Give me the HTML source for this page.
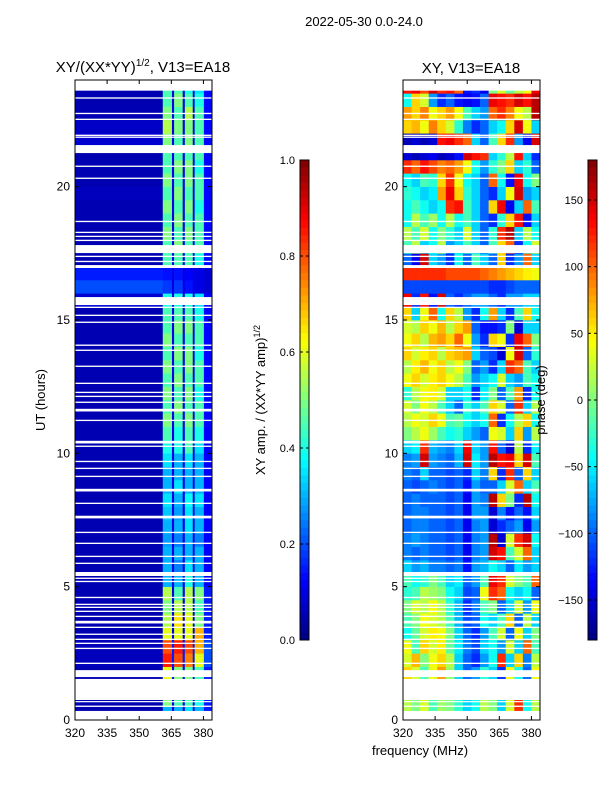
<!DOCTYPE html>
<html><head><meta charset="utf-8"><style>
body{margin:0;background:#fff;width:600px;height:800px;overflow:hidden;font-family:"Liberation Sans",sans-serif}
svg text{font-family:"Liberation Sans",sans-serif;fill:#000}
</style></head><body>
<svg id="fig" width="600" height="800" xmlns="http://www.w3.org/2000/svg"></svg>
<script>
const xTicks=[320,335,350,365,380];
const yTicks=[0,5,10,15,20];
const ampTicks=[0.0,0.2,0.4,0.6,0.8,1.0];
const phaseTicks=[-150,-100,-50,0,50,100,150];
const ampEdges=[320,361,365.3,366.3,370.3,371.3,375,375.9,380.2,384];
const phaseEdges=[320,324,328,332,336,340,344,348,352,356,360,364,368,372,376,380,384];
const rowHours=0.5;
const ampRows=[
[0.05,0.3,0.1,0.3,0.1,0.35,0.1,0.3,0.15],
[0.05,0.5,0.1,0.45,0.1,0.45,0.1,0.4,0.15],
[0.05,0.5,0.1,0.45,0.1,0.45,0.1,0.4,0.15],
[0.05,0.6,0.1,0.5,0.1,0.5,0.1,0.45,0.15],
[0.06,0.85,0.15,0.8,0.15,0.75,0.15,0.6,0.2],
[0.06,0.8,0.15,0.85,0.15,0.8,0.15,0.7,0.2],
[0.05,0.6,0.1,0.6,0.1,0.6,0.1,0.7,0.15],
[0.05,0.55,0.1,0.65,0.1,0.6,0.1,0.5,0.15],
[0.05,0.5,0.1,0.55,0.1,0.55,0.1,0.45,0.15],
[0.05,0.55,0.1,0.45,0.1,0.55,0.1,0.5,0.15],
[0.05,0.3,0.1,0.3,0.1,0.4,0.1,0.3,0.12],
[0.05,0.3,0.1,0.25,0.1,0.35,0.1,0.3,0.12],
[0.05,0.3,0.1,0.3,0.1,0.3,0.1,0.3,0.12],
[0.05,0.28,0.1,0.25,0.1,0.3,0.1,0.25,0.12],
[0.05,0.3,0.1,0.3,0.1,0.35,0.1,0.3,0.12],
[0.05,0.32,0.1,0.28,0.1,0.35,0.1,0.3,0.12],
[0.05,0.35,0.1,0.3,0.1,0.38,0.1,0.35,0.12],
[0.05,0.3,0.1,0.35,0.1,0.3,0.1,0.3,0.12],
[0.05,0.3,0.1,0.3,0.1,0.3,0.1,0.3,0.12],
[0.05,0.35,0.1,0.3,0.1,0.35,0.1,0.3,0.12],
[0.05,0.4,0.1,0.4,0.1,0.45,0.1,0.35,0.12],
[0.05,0.45,0.1,0.4,0.1,0.45,0.1,0.4,0.12],
[0.05,0.5,0.1,0.45,0.1,0.5,0.1,0.45,0.13],
[0.05,0.45,0.1,0.5,0.1,0.45,0.1,0.45,0.13],
[0.05,0.5,0.1,0.45,0.1,0.5,0.1,0.4,0.13],
[0.05,0.45,0.1,0.5,0.1,0.45,0.1,0.45,0.13],
[0.05,0.5,0.1,0.45,0.1,0.5,0.1,0.45,0.13],
[0.05,0.45,0.1,0.5,0.1,0.5,0.1,0.4,0.13],
[0.05,0.5,0.1,0.45,0.1,0.45,0.1,0.45,0.13],
[0.05,0.45,0.1,0.5,0.1,0.5,0.1,0.45,0.13],
[0.05,0.45,0.1,0.45,0.1,0.45,0.1,0.4,0.13],
[0.08,0.4,0.1,0.4,0.1,0.4,0.1,0.35,0.12],
[0.2,0.18,0.1,0.18,0.1,0.14,0.1,0.1,0.08],
[0.15,0.14,0.1,0.14,0.1,0.12,0.1,0.1,0.08],
[0.05,0.45,0.1,0.45,0.1,0.45,0.1,0.4,0.13],
[0.05,0.45,0.1,0.5,0.1,0.45,0.1,0.45,0.13],
[0.05,0.5,0.1,0.45,0.1,0.5,0.1,0.45,0.13],
[0.05,0.45,0.1,0.5,0.1,0.45,0.1,0.45,0.13],
[0.05,0.5,0.1,0.45,0.1,0.5,0.1,0.4,0.13],
[0.06,0.45,0.1,0.5,0.1,0.45,0.1,0.45,0.13],
[0.05,0.5,0.1,0.45,0.1,0.5,0.1,0.45,0.13],
[0.05,0.45,0.1,0.5,0.1,0.5,0.1,0.4,0.13],
[0.05,0.45,0.1,0.45,0.1,0.45,0.1,0.45,0.13],
[0.08,0.5,0.1,0.45,0.1,0.5,0.1,0.45,0.13],
[0.07,0.55,0.1,0.5,0.1,0.5,0.1,0.45,0.13],
[0.05,0.5,0.1,0.45,0.1,0.55,0.1,0.45,0.13],
[0.05,0.45,0.1,0.5,0.1,0.45,0.1,0.4,0.13],
[0.05,0.45,0.1,0.45,0.1,0.4,0.1,0.35,0.13]];
const phaseRows=[
[20,0,30,-20,10,0,-30,-60,-40,20,0,-60,30,120,-40,20],
[20,0,30,-20,10,0,-30,-60,-40,20,0,-60,30,120,-40,20],
[60,30,-20,40,80,10,-60,-100,-80,-30,-60,-120,40,-40,-100,40],
[60,30,-20,40,80,10,-60,-100,-80,-30,-60,-120,40,-40,-100,40],
[30,70,0,40,60,20,-60,-100,-120,-80,-40,120,-60,60,-90,20],
[40,-20,60,30,50,-10,-50,-90,-110,-60,-40,-80,30,-60,100,-20],
[-40,-10,30,50,40,0,-60,-100,-120,-80,-20,30,-100,40,-60,0],
[-20,0,40,30,20,-20,-70,-110,-100,-40,-60,-20,60,-100,20,-60],
[0,30,20,40,20,-30,-70,-120,-90,-20,0,-100,-60,30,-80,40],
[-30,-20,20,10,0,-40,-60,-110,-100,40,120,100,-40,-60,-40,-100],
[-20,-40,-30,0,-20,-60,-50,-100,-80,-20,140,120,30,0,-20,100],
[-60,-80,-70,-90,-90,-100,-90,-130,-80,-70,-40,-60,-100,-50,-80,-60],
[-90,-100,-90,-100,-100,-110,-100,-140,-90,-80,150,130,-20,30,100,-60],
[-90,-80,-90,-100,-100,-110,-100,-140,-90,-80,160,-150,30,120,150,-40],
[-100,-90,-90,-100,-100,-110,-100,-140,-90,-80,-150,-120,-100,-80,-140,-80],
[-100,-90,-90,-100,-100,-110,-100,-140,-80,-80,-150,-90,-130,-100,-130,-60],
[-100,-90,-100,-100,-100,-110,-100,-140,-80,-90,160,60,0,-120,160,-40],
[-100,-110,-100,-90,-100,-110,-100,-130,-80,-100,-100,-60,30,100,-60,-20],
[-90,-100,-60,-100,-100,-110,-100,-120,-60,-90,60,-120,120,-100,60,-60],
[-90,-80,150,-80,-90,-100,-70,150,-50,-80,160,130,140,60,150,-20],
[-60,-50,120,-70,-80,-90,-60,140,-60,-80,130,-100,-150,20,-120,-50],
[0,20,40,10,-20,-40,-30,-60,-80,-100,40,30,-60,60,-80,20],
[20,40,30,60,40,-20,-10,-40,-60,-40,100,-120,-40,20,60,-40],
[30,0,40,20,-20,-60,-100,-30,-60,-20,60,30,-100,120,-60,20],
[-30,20,40,50,30,-60,-60,-40,-120,-50,0,-100,-20,80,-120,-40],
[40,60,30,50,60,40,20,-20,-80,-60,-40,30,-60,-80,-20,-40],
[20,50,70,40,60,20,40,0,-100,-80,-120,-60,120,100,-20,-60],
[60,30,50,60,20,60,70,80,-60,-100,-110,-150,40,150,-100,-30],
[40,60,20,70,80,60,100,40,-80,-120,60,40,-120,140,100,0],
[30,20,60,40,70,20,60,80,-100,-130,-130,-120,0,-150,-60,-60],
[60,-60,40,100,-40,60,20,-80,-120,-40,80,-60,-120,-20,60,-40],
[140,-120,130,-130,150,-100,-120,-100,-80,-80,-100,-120,-80,-80,-60,-60],
[-110,-110,-110,-110,-110,-110,-110,-110,-110,-110,-120,-120,-110,-100,-100,-100],
[120,120,120,120,120,110,110,110,110,100,90,80,70,60,50,40],
[-100,-140,150,-60,-80,-120,-40,-100,-20,-60,-100,60,-120,-80,100,-60],
[-20,20,-60,-40,20,-80,-60,-20,-60,-100,-20,60,100,-120,-40,30],
[20,-20,30,-40,0,-30,-60,30,-60,-100,-30,120,160,-60,20,-40],
[-40,20,-20,10,-40,20,-40,-20,-60,-100,-120,-30,60,130,-130,-60],
[-40,-20,-40,-60,-40,120,130,-20,-60,-100,60,140,-140,-60,100,-20],
[-30,-40,-60,-50,80,140,60,-30,-60,-100,-120,-60,40,150,-80,-60],
[-40,-60,-20,-30,60,120,40,-40,-60,-100,100,-40,-130,140,-40,0],
[120,100,130,110,90,100,80,40,-40,-80,-30,0,60,-60,-30,-100],
[-150,-160,-150,-140,-160,-150,-130,150,130,120,-60,-30,20,130,-60,-120],
[-160,-150,-160,-150,130,140,120,100,-60,-100,-20,60,120,-80,-140,150],
[60,70,40,90,60,30,-30,-90,-120,-100,-60,-40,60,150,40,-60],
[80,60,90,40,60,80,40,-20,-60,-80,100,120,90,40,20,160],
[-40,60,30,-80,-120,-100,-130,-140,-130,-100,140,130,120,150,130,160],
[130,140,110,150,120,130,100,-130,-120,-140,0,30,-10,20,40,140]];
const flagStart=[0,0.49,0.67,0.75,1.61,2.1,2.66,2.85,3.0,3.19,3.45,3.62,3.86,4.05,4.2,4.31,4.57,5.17,5.29,5.4,5.85,6.11,6.6,7.01,7.56,8.1,8.57,9.11,9.41,9.67,10.24,10.37,11.21,11.57,11.89,12.11,12.26,12.6,13.24,13.84,14.03,14.89,15.15,15.45,15.56,16.95,17.17,17.36,17.51,17.96,18.11,18.26,18.67,20.29,20.74,21.26,21.83,21.9,22.5,22.72,23.3,23.6];
const flagEnd=[0.34,0.54,0.71,1.54,1.87,2.15,2.71,2.9,3.05,3.24,3.5,3.72,3.91,4.1,4.25,4.36,4.62,5.22,5.34,5.55,5.9,6.16,6.65,7.06,7.66,8.15,8.67,9.16,9.46,9.72,10.29,10.47,11.26,11.67,11.94,12.16,12.31,12.65,13.29,13.89,14.08,14.94,15.2,15.5,15.86,17.06,17.22,17.41,17.81,18.01,18.16,18.31,18.72,20.34,20.79,21.56,21.88,21.95,22.55,22.77,23.35,24.0];

const NS="http://www.w3.org/2000/svg";
const svg=document.getElementById('fig');
function mk(tag,attrs,parent){const e=document.createElementNS(NS,tag);for(const k in attrs)e.setAttribute(k,attrs[k]);(parent||svg).appendChild(e);return e;}
function cl(v){return Math.max(0,Math.min(1,v));}
function jet(t){t=cl(t);const r=cl(1.5-Math.abs(4*t-3)),g=cl(1.5-Math.abs(4*t-2)),b=cl(1.5-Math.abs(4*t-1));return `rgb(${Math.round(r*255)},${Math.round(g*255)},${Math.round(b*255)})`;}

const axT=80,axB=720,axW=137;
function yScale(h){return axB-(h/24)*(axB-axT);}
function makeX(x0){return f=>x0+(f-320)/64*axW;}

function panel(x0,rows,edges,norm,name){
  const xs=makeX(x0);
  const g=mk('g',{});
  
  
  rows.forEach((row,r)=>{
    const y1=yScale((r+1)*rowHours),y2=yScale(r*rowHours);
    row.forEach((v,c)=>{
      const xa=xs(edges[c]),xb=xs(edges[c+1]);
      const cell=mk('rect',{x:xa,y:y1,width:xb-xa+0.3,height:y2-y1+0.3,fill:jet(norm(v))},g);
      
      
    });
  });
  flagStart.forEach((s,i)=>{
    const ya=yScale(flagEnd[i]),yb=yScale(s);
    const fr=mk('rect',{x:x0,y:ya,width:axW,height:Math.max(1.2,yb-ya),fill:'#fff'},g);
    
    
  });
  const frame=mk('rect',{x:x0,y:axT,width:axW,height:axB-axT,fill:'none',stroke:'#000','stroke-width':1},g);
  
  
  xTicks.forEach(t=>{
    const x=xs(t);
    mk('line',{x1:x,y1:axB,x2:x,y2:axB-4,stroke:'#000'},g);
    mk('line',{x1:x,y1:axT,x2:x,y2:axT+4,stroke:'#000'},g);
    const tx=mk('text',{x:x,y:axB+17,'font-size':12,'text-anchor':'middle'},g);
    tx.textContent=t;
    
    
  });
  yTicks.forEach(t=>{
    const y=yScale(t);
    mk('line',{x1:x0,y1:y,x2:x0+4,y2:y,stroke:'#000'},g);
    mk('line',{x1:x0+axW,y1:y,x2:x0+axW-4,y2:y,stroke:'#000'},g);
    const tx=mk('text',{x:x0-5,y:y+4,'font-size':12,'text-anchor':'end'},g);
    tx.textContent=t;
    
    
  });
}
panel(75,ampRows,ampEdges,v=>v,'amplitude-heatmap');
panel(403,phaseRows,phaseEdges,v=>(v+180)/360,'phase-heatmap');

function colorbar(x,ticks,lo,hi,fmt,name){
  const g=mk('g',{});
  
  
  const top=160,bot=640,n=64;
  for(let i=0;i<n;i++){
    const y=bot-(i+1)*(bot-top)/n;
    mk('rect',{x:x,y:y,width:9,height:(bot-top)/n+0.4,fill:jet((i+0.5)/n)},g);
  }
  mk('rect',{x:x,y:top,width:9,height:bot-top,fill:'none',stroke:'#000'},g);
  ticks.forEach(t=>{
    const y=bot-(t-lo)/(hi-lo)*(bot-top);
    mk('line',{x1:x,y1:y,x2:x+3,y2:y,stroke:'#000'},g);
    mk('line',{x1:x+9,y1:y,x2:x+6,y2:y,stroke:'#000'},g);
    const tx=mk('text',{x:x-5,y:y+4,'font-size':11,'text-anchor':'end'},g);
    tx.textContent=fmt(t);
    
    
  });
}
colorbar(300,ampTicks,0,1,t=>t.toFixed(1),'amplitude-colorbar');
colorbar(588,phaseTicks,-180,180,t=>t<0?'\u2212'+(-t):String(t),'phase-colorbar');
</script>
<svg width="600" height="800" style="position:absolute;left:0;top:0" xmlns="http://www.w3.org/2000/svg">
<text x="364" y="26" font-size="13" text-anchor="middle">2022-05-30 0.0-24.0</text>
<text x="143" y="72" font-size="15" text-anchor="middle">XY/(XX*YY)<tspan font-size="10" dy="-6">1/2</tspan><tspan dy="6">, V13=EA18</tspan></text>
<text x="471" y="73" font-size="15" text-anchor="middle">XY, V13=EA18</text>
<text x="45" y="400" font-size="13" text-anchor="middle" transform="rotate(-90 45 400)">UT (hours)</text>
<text x="265" y="400" font-size="13" text-anchor="middle" transform="rotate(-90 265 400)">XY amp. / (XX*YY amp)<tspan font-size="9" dy="-5">1/2</tspan></text>
<text x="545" y="400" font-size="13" text-anchor="middle" transform="rotate(-90 545 400)">phase (deg)</text>
<text x="420" y="755" font-size="13" text-anchor="middle">frequency (MHz)</text>
</svg>
</body></html>
